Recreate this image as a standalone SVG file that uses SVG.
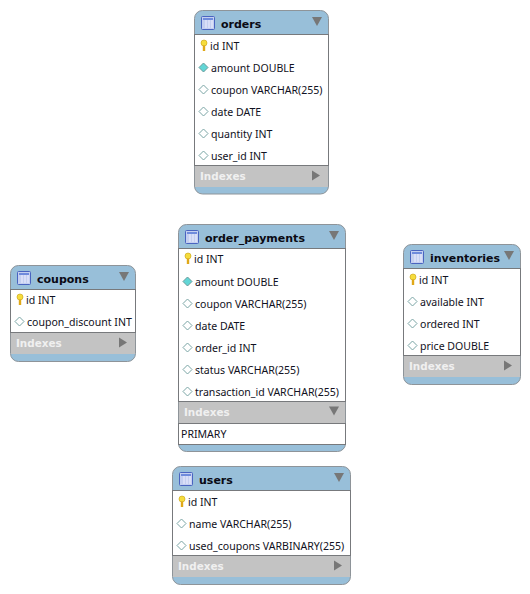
<svg xmlns="http://www.w3.org/2000/svg" width="530" height="594" viewBox="0 0 530 594">
<style>
text{font-family:"Noto Sans","DejaVu Sans",sans-serif;font-size:10.55px;fill:#111122}
.t{font-family:"DejaVu Sans",sans-serif;font-size:11px;font-weight:bold;fill:#0a0a14}
.i{font-family:"DejaVu Sans",sans-serif;font-size:10.4px;font-weight:bold;fill:#f0f0f0}
.o{fill:#98bfd9;stroke:#8e9499;stroke-width:1}
.w{fill:#fff;stroke:#77797c;stroke-width:1}
.g{fill:#c3c3c3}
.a{fill:#777}
</style>
<defs>
<g id="tbl"><rect x="0.500" y="0.500" width="13" height="13" rx="1" fill="#c4cff0" stroke="#4a64c0"/><rect x="2" y="2" width="10" height="2" fill="#6f8bdc"/><path d="M5 4v8M8 4v8M11 4v8" stroke="#eef" stroke-width="1"/></g>
<g id="key"><ellipse cx="0" cy="-3" rx="3" ry="3" fill="#f5dc3c" stroke="#c8a010" stroke-width="0.6"/><rect x="-1.200" y="-0.500" width="2.400" height="5.500" fill="#e0a818"/></g>
<path id="dh" d="M0 -4.500L4.500 0L0 4.500L-4.500 0Z" fill="#fff" stroke="#7aa5a5" stroke-width="1"/>
<path id="df" d="M0 -4.500L4.500 0L0 4.500L-4.500 0Z" fill="#62d6d6" stroke="#6a9a9a" stroke-width="1"/>
<path id="ad" d="M-5 -4.500H5L0 4.500Z" class="a"/>
<path id="ar" d="M-4 -5L4 0L-4 5Z" class="a"/>
</defs>
<g id="connectors"/>
<g id="orders">
<rect class="o" x="194.500" y="10.500" width="134" height="183.500" rx="8"/>
<rect class="w" x="194.500" y="34.500" width="134" height="131"/>
<rect class="g" x="195" y="166" width="133" height="21"/>
<use href="#tbl" x="201" y="16"/><text class="t" x="221" y="27.500">orders</text><use href="#ad" x="317" y="21.500"/>
<use href="#key" x="204" y="46"/><text x="210" y="50">id INT</text>
<use href="#df" x="203.500" y="67.500"/><text x="211" y="72">amount DOUBLE</text>
<use href="#dh" x="203.500" y="89.500"/><text x="211" y="94">coupon VARCHAR(255)</text>
<use href="#dh" x="203.500" y="111.500"/><text x="211" y="116">date DATE</text>
<use href="#dh" x="203.500" y="133.500"/><text x="211" y="138">quantity INT</text>
<use href="#dh" x="203.500" y="155.500"/><text x="211" y="160">user_id INT</text>
<text class="i" x="200" y="180">Indexes</text><use href="#ar" x="316" y="175.500"/>
</g>
<g id="order_payments">
<rect class="o" x="178.500" y="224.500" width="167" height="227" rx="8"/>
<rect class="w" x="178.500" y="248.500" width="167" height="153"/>
<rect class="g" x="179" y="402" width="166" height="21"/>
<rect class="w" x="178.500" y="423.500" width="167" height="21"/>
<use href="#tbl" x="185" y="230"/><text class="t" x="205" y="241.500">order_payments</text><use href="#ad" x="334" y="235.500"/>
<use href="#key" x="188" y="259"/><text x="194" y="263">id INT</text>
<use href="#df" x="187.500" y="281.500"/><text x="195" y="286">amount DOUBLE</text>
<use href="#dh" x="187.500" y="303.500"/><text x="195" y="308">coupon VARCHAR(255)</text>
<use href="#dh" x="187.500" y="325.500"/><text x="195" y="330">date DATE</text>
<use href="#dh" x="187.500" y="347.500"/><text x="195" y="352">order_id INT</text>
<use href="#dh" x="187.500" y="369.500"/><text x="195" y="374">status VARCHAR(255)</text>
<use href="#dh" x="187.500" y="391.500"/><text x="195" y="396">transaction_id VARCHAR(255)</text>
<text class="i" x="184" y="416">Indexes</text><use href="#ad" x="334" y="411"/>
<text x="181" y="438">PRIMARY</text>
</g>
<g id="coupons">
<rect class="o" x="10.500" y="265.500" width="125" height="96" rx="8"/>
<rect class="w" x="10.500" y="289.500" width="125" height="43"/>
<rect class="g" x="11" y="333" width="124" height="21"/>
<use href="#tbl" x="17" y="271"/><text class="t" x="37" y="282.500">coupons</text><use href="#ad" x="124" y="276.500"/>
<use href="#key" x="20" y="300"/><text x="26" y="304">id INT</text>
<use href="#dh" x="19.500" y="321.500"/><text x="27" y="326">coupon_discount INT</text>
<text class="i" x="16" y="347">Indexes</text><use href="#ar" x="123" y="342.500"/>
</g>
<g id="inventories">
<rect class="o" x="403.500" y="244.500" width="117" height="140" rx="8"/>
<rect class="w" x="403.500" y="268.500" width="117" height="87"/>
<rect class="g" x="404" y="356" width="116" height="21"/>
<use href="#tbl" x="410" y="250"/><text class="t" x="430" y="261.500">inventories</text><use href="#ad" x="509" y="255.500"/>
<use href="#key" x="413" y="280"/><text x="419" y="284">id INT</text>
<use href="#dh" x="412.500" y="301.500"/><text x="420" y="306">available INT</text>
<use href="#dh" x="412.500" y="323.500"/><text x="420" y="328">ordered INT</text>
<use href="#dh" x="412.500" y="345.500"/><text x="420" y="350">price DOUBLE</text>
<text class="i" x="409" y="370">Indexes</text><use href="#ar" x="508" y="365.500"/>
</g>
<g id="users">
<rect class="o" x="172.500" y="466.500" width="178" height="118" rx="8"/>
<rect class="w" x="172.500" y="490.500" width="178" height="65"/>
<rect class="g" x="173" y="556" width="177" height="21"/>
<use href="#tbl" x="179" y="472"/><text class="t" x="199" y="483.500">users</text><use href="#ad" x="339" y="477.500"/>
<use href="#key" x="182" y="502"/><text x="188" y="506">id INT</text>
<use href="#dh" x="181.500" y="523.500"/><text x="189" y="528">name VARCHAR(255)</text>
<use href="#dh" x="181.500" y="545.500"/><text x="189" y="550">used_coupons VARBINARY(255)</text>
<text class="i" x="178" y="570">Indexes</text><use href="#ar" x="338" y="565.500"/>
</g>
</svg>
